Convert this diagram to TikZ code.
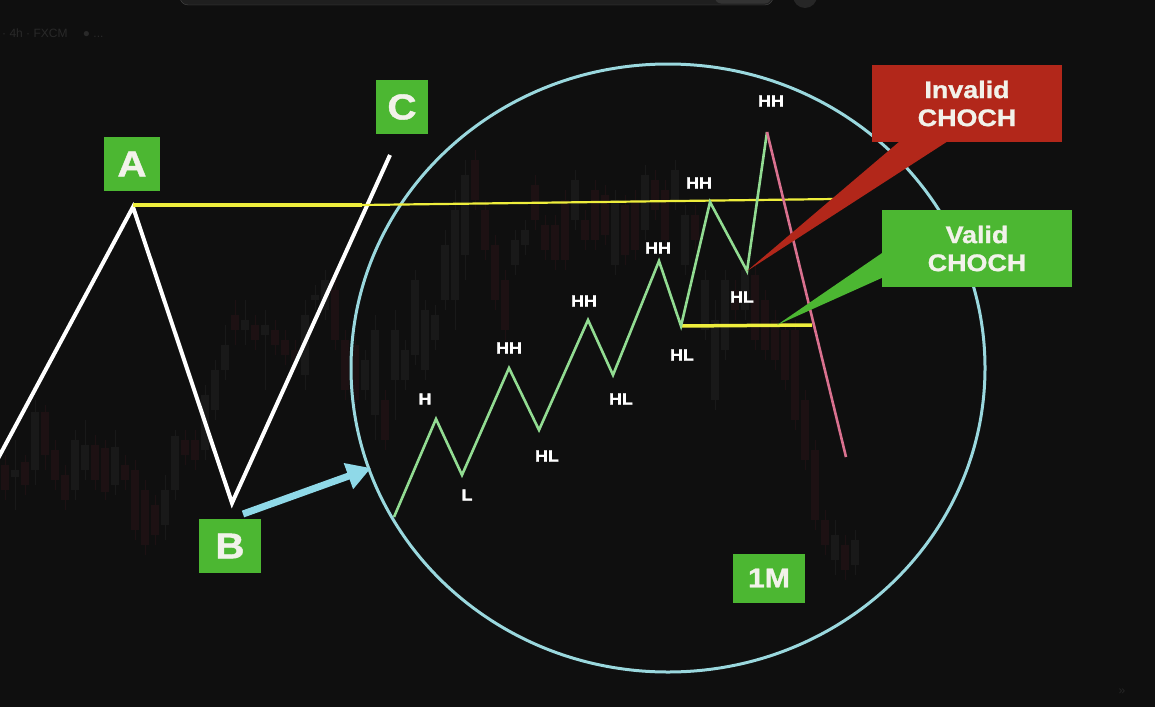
\documentclass[tikz,border=0pt]{standalone}
\usepackage{fontspec}
\setmainfont{Liberation Sans}
\newfontfamily\lbl{Liberation Sans}[FakeStretch=1.12,BoldFeatures={FakeBold=1.2}]
\usetikzlibrary{arrows.meta,calc}
\definecolor{bgc}{HTML}{0F0F0F}
\definecolor{candg}{HTML}{191919}
\definecolor{candr}{HTML}{1D1113}
\definecolor{ringc}{HTML}{9AD8DE}
\definecolor{yel}{HTML}{EEEE3C}
\definecolor{zig}{HTML}{92DC92}
\definecolor{pinkc}{HTML}{D9718F}
\definecolor{boxg}{HTML}{4CB732}
\definecolor{boxr}{HTML}{B2271A}
\definecolor{txtw}{HTML}{F2F2EA}
\definecolor{arrc}{HTML}{8FD9E8}
\tikzset{
  letterbox/.style={fill=boxg, text=txtw, font=\lbl\bfseries\fontsize{36}{36}\selectfont, inner sep=0pt, align=center},
  calloutbox/.style={text=txtw, font=\lbl\bfseries\fontsize{24}{28}\selectfont, inner sep=0pt, align=center, minimum width=190pt, minimum height=77pt},
  swinglbl/.style={text=white, font=\lbl\bfseries\fontsize{16}{16}\selectfont, inner sep=0pt},
  candle/.style={line width=1pt}
}
\begin{document}
\begin{tikzpicture}[x=1pt,y=-1pt]
\useasboundingbox (0,0) rectangle (1155,707);
\fill[bgc] (0,0) rectangle (1155,707);
% top UI remnants
\draw[fill=black!88, draw=black!72, rounded corners=8pt] (180,-20) rectangle (773,5);
\fill[black!80, rounded corners=6pt] (715,-18) rectangle (771,3.5);
\fill[black!85] (805,-4) circle (12);
\node[anchor=west, text=black!84, font=\fontsize{12}{12}\selectfont, inner sep=0pt] (hdr) at (2,33) {· 4h · FXCM \quad ● ...};
\node[text=black!85, font=\fontsize{12}{12}\selectfont, inner sep=0pt] (icon) at (1122,692) {»};
% faint candles: x / body top / body bottom / wick top / wick bottom / colour
\foreach \x/\bt/\bb/\wt/\wb/\cc in {
5/465/490/455/500/candr, 15/470/477/440/510/candg, 25/462/485/455/495/candr, 35/412/470/400/485/candg,
45/412/455/405/470/candr, 55/450/480/440/490/candr, 65/475/500/465/510/candr, 75/440/490/430/500/candg,
85/445/470/420/480/candg, 95/445/480/435/490/candr, 105/448/492/440/500/candr, 115/447/485/430/495/candg,
125/465/480/455/490/candr, 135/470/530/460/540/candr, 145/490/545/480/555/candr, 155/505/535/495/545/candr,
165/490/525/475/540/candg, 175/436/490/430/500/candg, 185/440/455/430/465/candr, 195/440/460/430/470/candr,
205/395/450/385/460/candg, 215/370/410/360/420/candg, 225/345/370/325/380/candg, 235/315/330/300/345/candr,
245/320/330/300/345/candg, 255/325/340/315/350/candr, 265/325/335/310/390/candg, 275/330/345/320/355/candr,
285/340/355/330/365/candr, 295/350/360/340/370/candr, 305/315/375/300/390/candg, 315/295/300/285/310/candg,
325/280/310/270/320/candg, 335/290/340/280/350/candr, 345/340/390/330/400/candr, 355/345/400/335/410/candr,
365/360/390/350/400/candg, 375/330/415/315/440/candg, 385/400/440/390/450/candr, 395/330/380/310/420/candg,
405/350/380/340/390/candg, 415/280/355/270/365/candg, 425/310/370/300/380/candg, 435/315/340/305/350/candg,
445/245/300/230/310/candg, 455/210/300/190/330/candg, 465/175/255/160/280/candg, 475/160/200/150/210/candr,
485/210/250/200/260/candr, 495/245/300/235/310/candr, 505/280/330/270/340/candr, 515/240/265/230/275/candg,
525/230/245/220/255/candg, 535/185/220/175/230/candr, 545/225/250/215/260/candr, 555/225/260/215/270/candr,
565/200/260/190/270/candr, 575/180/220/170/230/candg, 585/220/240/210/250/candr, 595/190/240/180/250/candr,
605/195/235/185/245/candr, 615/200/265/190/275/candg, 625/205/255/195/265/candr, 635/200/250/190/260/candr,
645/175/230/165/240/candg, 655/180/210/170/220/candr, 665/190/240/180/250/candr, 675/170/200/160/210/candg,
685/215/265/205/275/candg, 695/215/240/205/250/candr, 705/280/330/270/340/candg, 715/320/400/300/410/candg,
725/280/350/270/360/candg, 735/290/310/280/320/candr, 745/270/310/260/320/candg, 755/275/340/265/350/candr,
765/300/350/290/360/candr, 775/320/360/310/370/candr, 785/330/380/320/390/candr, 795/330/420/320/430/candr,
805/400/460/390/470/candr, 815/450/520/440/530/candr, 825/520/545/510/555/candr, 835/535/560/520/575/candg,
845/545/570/535/580/candr, 855/540/565/530/575/candg}{
  \draw[\cc, candle] (\x,\wt) -- (\x,\wb);
  \fill[\cc] (\x-4,\bt) rectangle (\x+4,\bb);
}
% ring
\draw[ringc, line width=3pt] (668,368) ellipse [x radius=317, y radius=304];
% coordinates
\coordinate (w0) at (-6,466);
\coordinate (pA) at (133,207);
\coordinate (pB) at (232,503);
\coordinate (pC) at (390,155);
\coordinate (yA) at (133,205);
\coordinate (yM) at (362,205);
\coordinate (yE) at (835,199);
\coordinate (hlS) at (680,326);
\coordinate (hlE) at (812,325);
\coordinate (g0) at (394,517);
\coordinate (g1) at (436,419);
\coordinate (g2) at (462,475);
\coordinate (g3) at (509,368);
\coordinate (g4) at (539,430);
\coordinate (g5) at (588,320);
\coordinate (g6) at (613,375);
\coordinate (g7) at (659,261);
\coordinate (g8) at (681,326);
\coordinate (g9) at (710,202);
\coordinate (g10) at (747,271);
\coordinate (g11) at (767,132);
\coordinate (pk) at (846,457);
\coordinate (arS) at (243,514);
\coordinate (arE) at (371,468);
% white swing
\draw[white, line width=4pt, line join=miter] (w0) -- (pA) -- (pB) -- (pC);
% yellow lines
\draw[yel, line width=4.5pt] (yA) -- (yM);
\draw[yel, line width=2.2pt] (yM) -- (yE);
\draw[yel, line width=3.5pt] (hlS) -- (hlE);
% green zigzag
\draw[zig, line width=2.6pt, line join=miter] (g0) -- (g1) -- (g2) -- (g3) -- (g4) -- (g5) -- (g6) -- (g7) -- (g8) -- (g9) -- (g10) -- (g11);
% pink drop
\draw[pinkc, line width=2.6pt] (g11) -- (pk);
% swing labels
\node[swinglbl] (lH) at (425,399) {H};
\node[swinglbl] (lL) at (467,495) {L};
\node[swinglbl] (lHH1) at (509,348) {HH};
\node[swinglbl] (lHL1) at (547,456) {HL};
\node[swinglbl] (lHH2) at (584,301) {HH};
\node[swinglbl] (lHL2) at (621,399) {HL};
\node[swinglbl] (lHH3) at (658,248) {HH};
\node[swinglbl] (lHL3) at (682,355) {HL};
\node[swinglbl] (lHH4) at (699,183) {HH};
\node[swinglbl] (lHL4) at (742,297) {HL};
\node[swinglbl] (lHH5) at (771,101) {HH};
% cyan arrow
\draw[arrc, line width=7pt, -{Triangle[width=26pt,length=24pt]}] (arS) -- (arE);
% letter boxes
\node[letterbox, minimum width=56pt, minimum height=54pt] (bA) at (132,164) {A};
\node[letterbox, minimum width=52pt, minimum height=54pt] (bC) at (402,107) {C};
\node[letterbox, minimum width=62pt, minimum height=54pt] (bB) at (230,546) {B};
\node[letterbox, minimum width=72pt, minimum height=49pt, font=\lbl\bfseries\fontsize{27}{27}\selectfont] (b1M) at (769,578) {1M};
% callouts
\node[calloutbox, fill=boxr] (inv) at (967,103.5) {Invalid\\CHOCH};
\node[calloutbox, fill=boxg] (val) at (977,248.5) {Valid\\CHOCH};
\fill[boxr] ($(inv.south west)+(28,-1)$) -- ($(inv.south west)+(76,-1)$) -- (g10) -- cycle;
\fill[boxg] ($(val.west)+(1,4)$) -- ($(val.west)+(1,29)$) -- ($(hlE)+(-35,0)$) -- cycle;
\end{tikzpicture}
\end{document}
